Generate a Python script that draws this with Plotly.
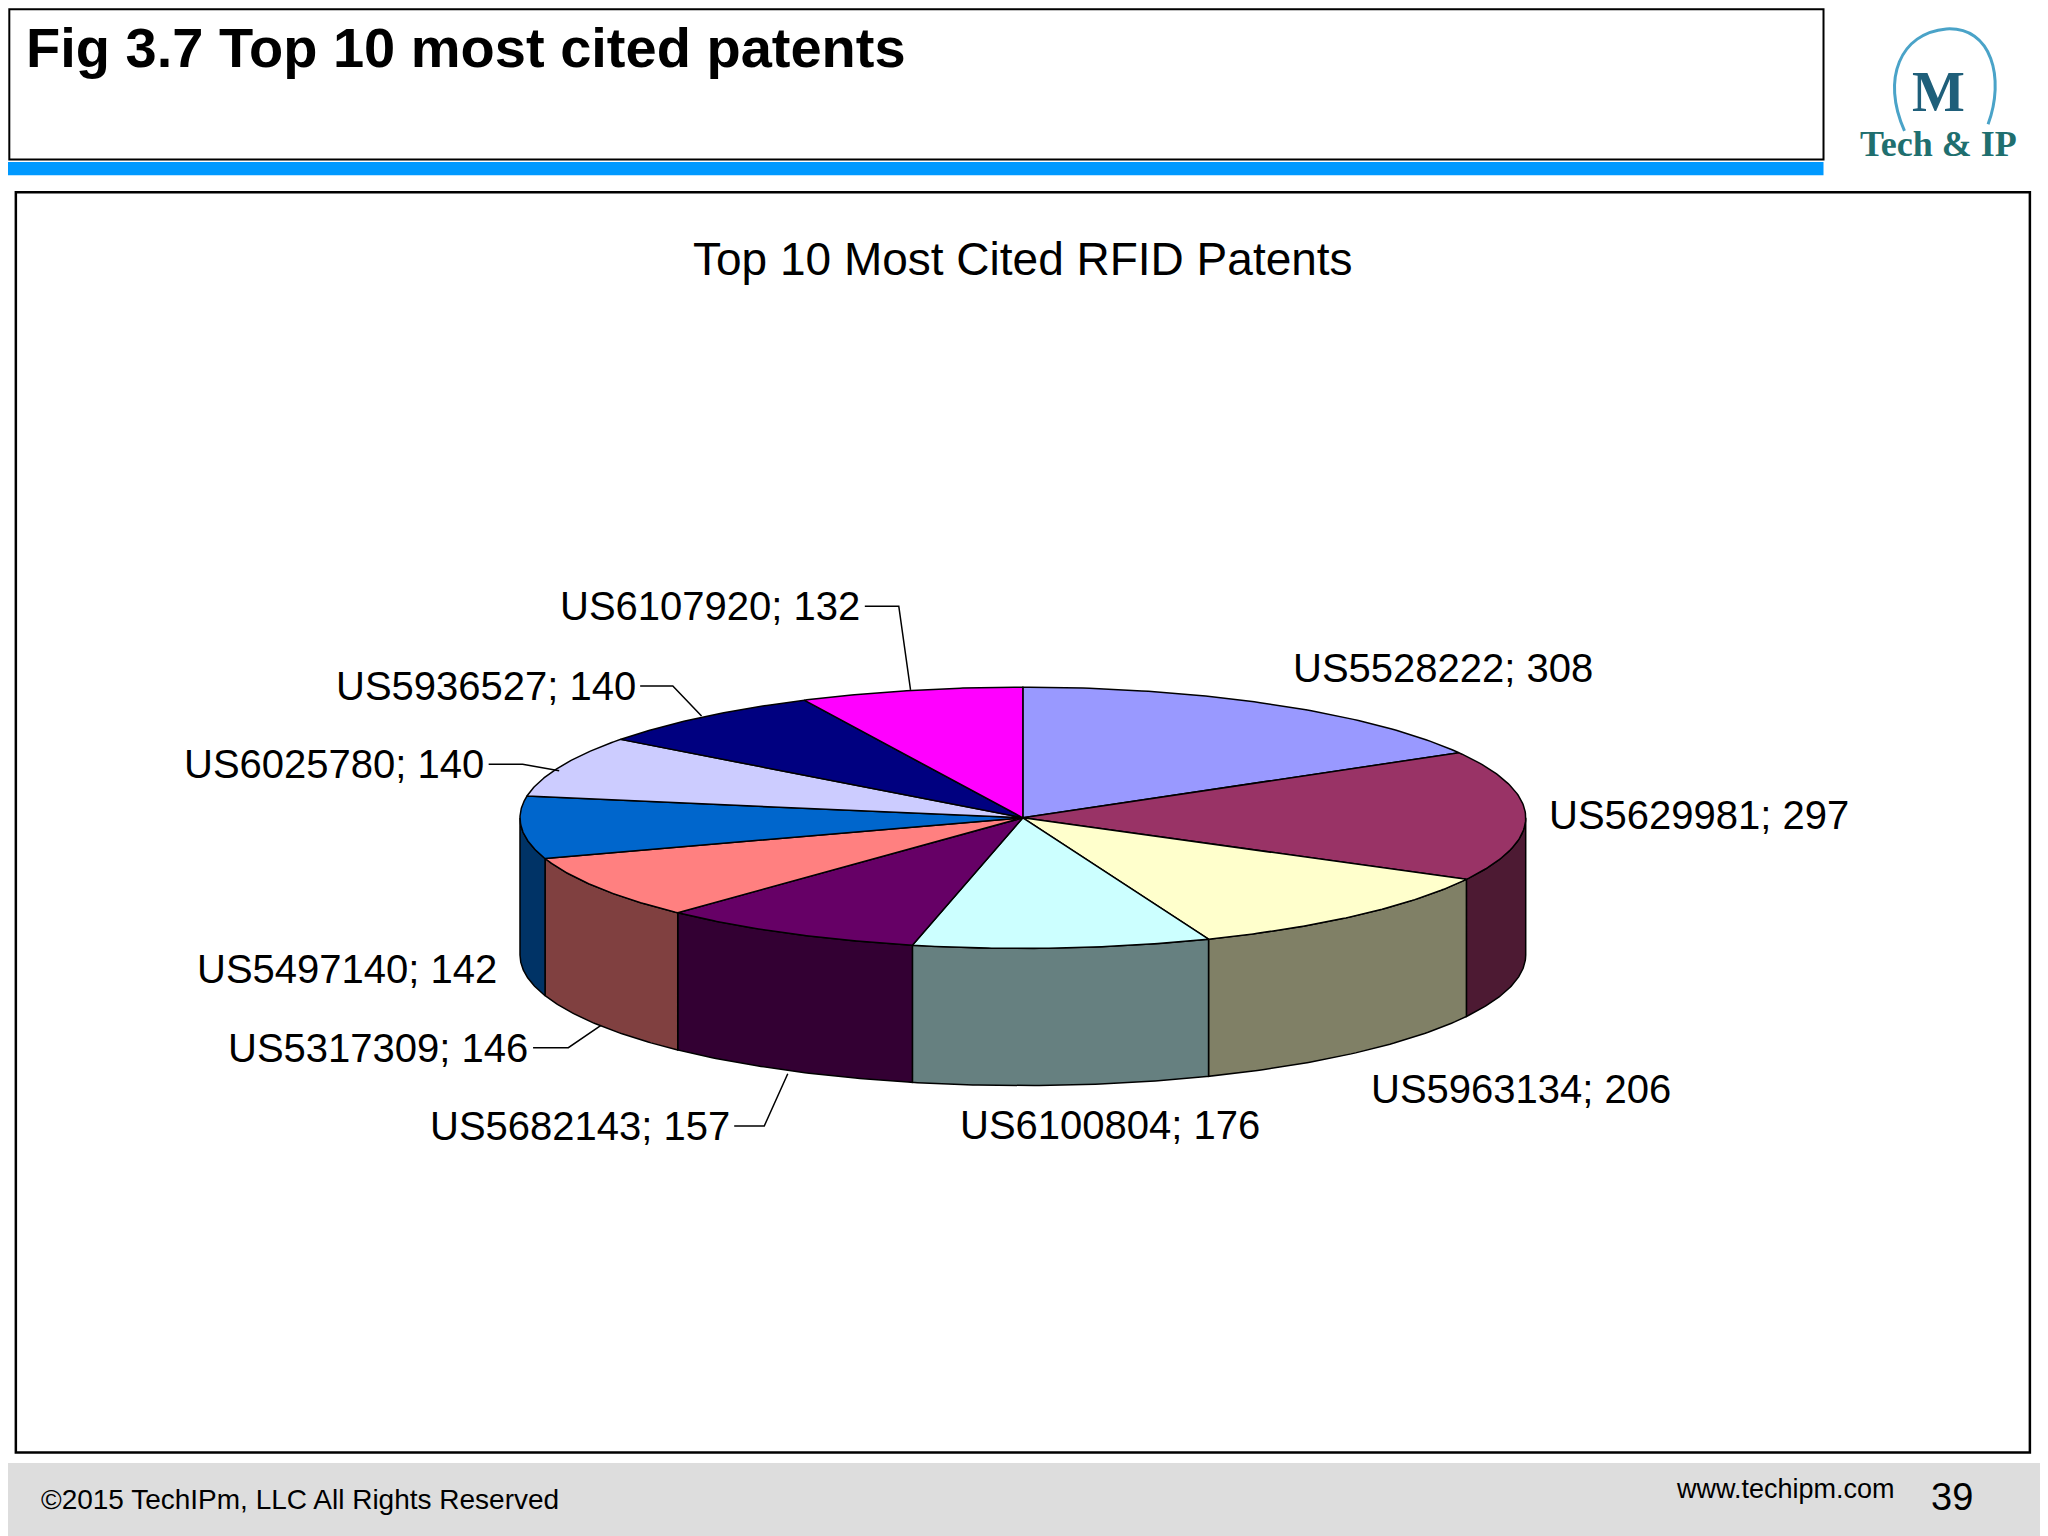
import numpy as np
import plotly.graph_objects as go

patents = ["US5528222","US5629981","US5963134","US6100804","US5682143",
           "US5317309","US5497140","US6025780","US5936527","US6107920"]
cites = [308,297,206,176,157,146,142,140,140,132]
top_colors = ["#9999FF","#993366","#FFFFCC","#CCFFFF","#660066",
              "#FF8080","#0066CC","#CCCCFF","#000080","#FF00FF"]
side_colors = ["#4D4D80","#4D1A33","#808066","#668080","#330033",
               "#804040","#003366","#666680","#000040","#800080"]
label_pos = [(988,511,"left"),(1184,624,"left"),(1048,834,"left"),(733,861,"left"),
             (560,862,"right"),(406,802,"right"),(382,742,"right"),(372,585,"right"),
             (488,525,"right"),(660,464,"right")]
leaders = {4:[(562,862),(585,862),(603,822)],5:[(408,802),(435,802),(460,785)],
           7:[(374,585),(400,585),(428,590)],8:[(490,525),(515,525),(537,548)],
           9:[(662,464),(688,464),(697,528)]}

W, H = 1568, 1176
OFF = 6  # compensate page body margin
cx, cy, rx, ry, depth = 783, 626, 385, 100, 105

def pt(t, dy=0):
    return cx + rx*np.sin(t), cy - ry*np.cos(t) + dy

fig = go.Figure()
total = sum(cites)
bounds = np.concatenate([[0], np.cumsum(cites)]) / total * 2*np.pi

for i in range(len(cites)):
    a0, a1 = max(bounds[i], np.pi/2), min(bounds[i+1], 3*np.pi/2)
    if a1 <= a0:
        continue
    t = np.linspace(a0, a1, 60)
    x1, y1 = pt(t)
    x2, y2 = pt(t[::-1], depth)
    fig.add_trace(go.Scatter(x=np.concatenate([x1,x2,[x1[0]]]), y=np.concatenate([y1,y2,[y1[0]]]),
                             fill="toself", fillcolor=side_colors[i], mode="lines",
                             line=dict(color="black", width=1.5), hoverinfo="skip", showlegend=False))
for i in range(len(cites)):
    t = np.linspace(bounds[i], bounds[i+1], 80)
    x, y = pt(t)
    fig.add_trace(go.Scatter(x=np.concatenate([[cx],x,[cx]]), y=np.concatenate([[cy],y,[cy]]),
                             fill="toself", fillcolor=top_colors[i], mode="lines",
                             line=dict(color="black", width=1.5), hoverinfo="skip", showlegend=False))
for i, pts in leaders.items():
    fig.add_trace(go.Scatter(x=[p[0] for p in pts], y=[p[1] for p in pts], mode="lines",
                             line=dict(color="black", width=1.5), hoverinfo="skip", showlegend=False))

ann = []
for i,(x,y,anc) in enumerate(label_pos):
    ann.append(dict(x=x, y=y, xref="x", yref="y", text=f"{patents[i]}; {cites[i]}", showarrow=False,
                    xanchor=anc, yanchor="middle", font=dict(size=40, color="black", family="Liberation Sans")))
ann += [
    dict(x=18, y=36, xref="x", yref="y", text="<b>Fig 3.7 Top 10 most cited patents</b>", showarrow=False,
         xanchor="left", yanchor="middle", font=dict(size=56, color="black", family="Liberation Sans")),
    dict(x=783, y=198, xref="x", yref="y", text="Top 10 Most Cited RFID Patents", showarrow=False,
         xanchor="center", yanchor="middle", font=dict(size=46, color="black", family="Liberation Sans")),
    dict(x=30, y=1148, xref="x", yref="y", text="©2015 TechIPm, LLC All Rights Reserved", showarrow=False,
         xanchor="left", yanchor="middle", font=dict(size=28, color="black", family="Liberation Sans")),
    dict(x=1452, y=1140, xref="x", yref="y", text="www.techipm.com", showarrow=False,
         xanchor="right", yanchor="middle", font=dict(size=27, color="black", family="Liberation Sans")),
    dict(x=1512, y=1146, xref="x", yref="y", text="39", showarrow=False,
         xanchor="right", yanchor="middle", font=dict(size=38, color="black", family="Liberation Sans")),
    dict(x=1484, y=70, xref="x", yref="y", text="<b>M</b>", showarrow=False,
         xanchor="center", yanchor="middle", font=dict(size=56, color="#1F5F7A", family="Liberation Serif")),
    dict(x=1484, y=110, xref="x", yref="y", text="<b>Tech & IP</b>", showarrow=False,
         xanchor="center", yanchor="middle", font=dict(size=36, color="#1F6F6F", family="Liberation Serif")),
]
shapes = [
    dict(type="rect", xref="x", yref="y", x0=OFF, x1=W+OFF, y0=1120, y1=H+OFF, fillcolor="#DDDDDD", line_width=0, layer="below"),
    dict(type="rect", xref="x", yref="y", x0=OFF+1, x1=1396, y0=OFF+1, y1=122, line=dict(color="black", width=2)),
    dict(type="rect", xref="x", yref="y", x0=OFF, x1=1396, y0=124, y1=134, fillcolor="#0099FF", line_width=0),
    dict(type="rect", xref="x", yref="y", x0=12, x1=1554, y0=147, y1=1112, line=dict(color="black", width=2.5)),
    dict(type="path", xref="x", yref="y", path="M 1458,100 C 1440,60 1455,25 1490,22 C 1525,20 1535,60 1522,95",
         line=dict(color="#4AA3C8", width=3)),
]
fig.update_layout(width=2048, height=1536, margin=dict(l=0,r=0,t=0,b=0),
                  plot_bgcolor="white", paper_bgcolor="white",
                  xaxis=dict(range=[OFF, W+OFF], visible=False, fixedrange=True),
                  yaxis=dict(range=[H+OFF, OFF], visible=False, fixedrange=True),
                  annotations=ann, shapes=shapes)
fig.write_html("out.html")
